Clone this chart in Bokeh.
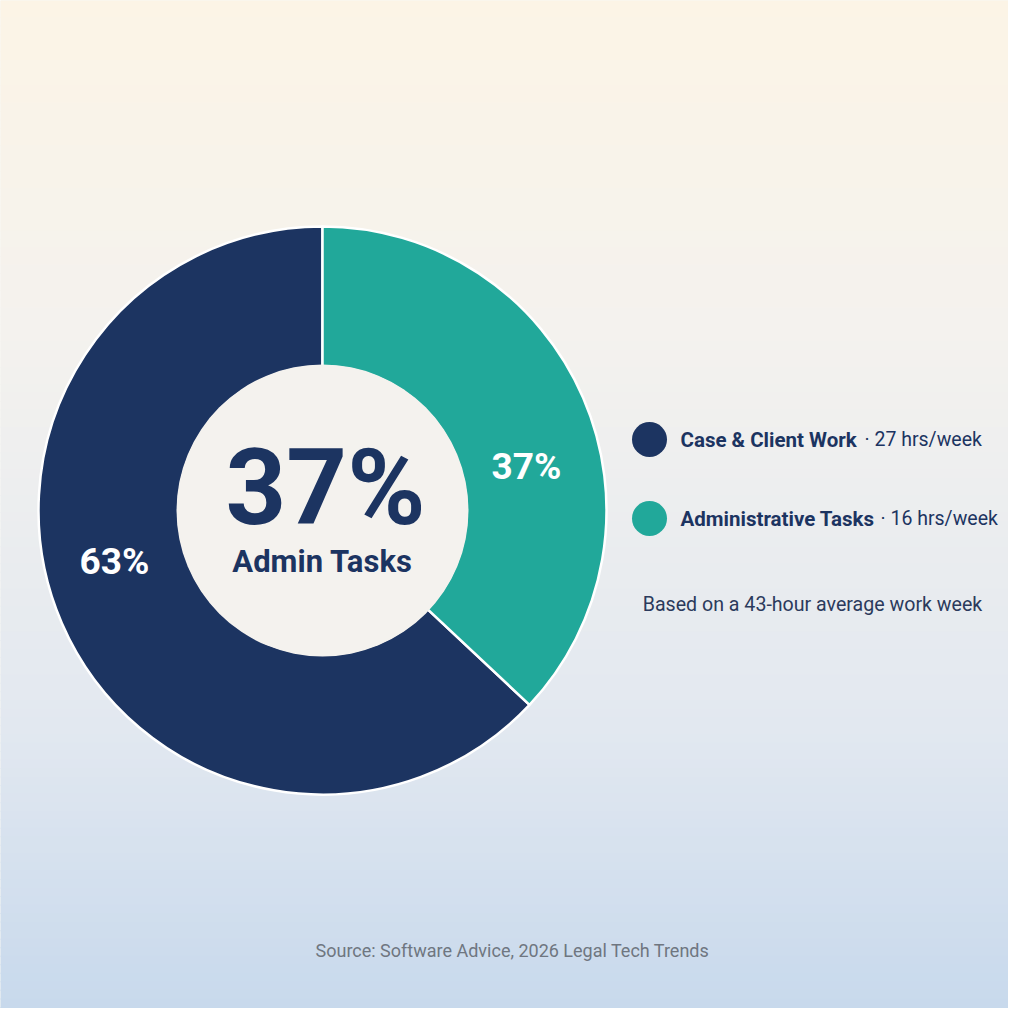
import numpy as np
from bokeh.plotting import figure
from bokeh.models import Range1d
from bokeh.core.properties import value
from bokeh.embed import file_html
from bokeh.resources import INLINE

# ---- data ----
categories = ["Case & Client Work", "Administrative Tasks"]
shares = [63, 37]
hours = [27, 16]
slice_labels = ["63%", "37%"]
center_value = "37%"
center_label = "Admin Tasks"
note = "Based on a 43-hour average work week"
source = "Source: Software Advice, 2026 Legal Tech Trends"

colors = ["#1c3461", "#21a89a"]
navy = "#1c3461"
FONT = "Roboto"

W = H = 1008
p = figure(width=W, height=H, output_backend="svg", toolbar_location=None,
           x_range=Range1d(0, 1008), y_range=Range1d(0, 1008), min_border=0)
p.axis.visible = False
p.grid.visible = False
p.outline_line_color = None
p.background_fill_color = "#f3f1ec"
p.border_fill_color = "#f3f1ec"

def Y(sy):  # screen y (reference pixels) -> data y
    return 1008 - sy

# ---- background gradient (style) ----
stops_y = [0, 330, 730, 1024]
stops_c = [(252, 244, 230), (244, 242, 238), (226, 232, 240), (198, 216, 236)]
n = 120
edges = np.linspace(0, 1024, n + 1)
tops, bots, cols = [], [], []
for i in range(n):
    mid = (edges[i] + edges[i + 1]) / 2
    rgb = [int(round(np.interp(mid, stops_y, [c[k] for c in stops_c]))) for k in range(3)]
    cols.append("#%02x%02x%02x" % tuple(rgb))
    tops.append(Y(edges[i]) + 0.5)
    bots.append(Y(edges[i + 1]) - 0.5)
p.quad(left=-10, right=1030, top=tops, bottom=bots, fill_color=cols, line_color=None)

# ---- donut ----
cx, cy = 322, Y(510)
r_out, r_in = 284, 146
total = sum(shares)
# teal (admin) slice goes clockwise from 12 o'clock; navy fills the rest
admin_frac = shares[1] / total
start_admin = np.pi / 2 - 2 * np.pi * admin_frac
end_admin = np.pi / 2
p.annular_wedge(x=cx, y=cy, inner_radius=r_in - 2, outer_radius=r_out,
                start_angle=end_admin, end_angle=start_admin + 2 * np.pi,
                direction="anticlock", fill_color=colors[0],
                line_color="white", line_width=2.5)
p.annular_wedge(x=cx, y=cy, inner_radius=r_in - 2, outer_radius=r_out,
                start_angle=start_admin, end_angle=end_admin,
                direction="anticlock", fill_color=colors[1],
                line_color="white", line_width=2.5)
p.circle(x=cx, y=cy, radius=r_in, fill_color="#f4f2ee", line_color=None)

# slice labels
p.text(x=[114, 526], y=[Y(561), Y(466)], text=slice_labels,
       text_font=value(FONT), text_font_style="bold", text_font_size="37px",
       text_color="white", text_align="center", text_baseline="middle")

# center text
p.text(x=[cx + 3], y=[Y(487)], text=[center_value], text_font=value(FONT),
       text_font_style="bold", text_font_size="106px", text_color=navy,
       text_align="center", text_baseline="middle")
p.text(x=[cx], y=[Y(561)], text=[center_label], text_font=value(FONT),
       text_font_style="bold", text_font_size="31px", text_color=navy,
       text_align="center", text_baseline="middle")

# ---- legend ----
leg_y = [Y(439), Y(518)]
p.circle(x=[649, 649], y=leg_y, radius=17.5, fill_color=colors, line_color=None)
p.text(x=[680, 680], y=leg_y, text=categories, text_font=value(FONT),
       text_font_style="bold", text_font_size="20.5px", text_color=navy,
       text_align="left", text_baseline="middle")
suffix = ["\u00b7 %d hrs/week" % h for h in hours]
p.text(x=[864, 880], y=leg_y, text=suffix, text_font=value(FONT),
       text_font_size="19.5px", text_color=navy,
       text_align="left", text_baseline="middle")

p.text(x=[812], y=[Y(604)], text=[note], text_font=value(FONT),
       text_font_size="19.6px", text_color="#2b3a5c",
       text_align="center", text_baseline="middle")

p.text(x=[512], y=[Y(950)], text=[source], text_font=value(FONT),
       text_font_size="18px", text_color="#6f7680",
       text_align="center", text_baseline="middle")

open("out.html", "w").write(file_html(p, INLINE))
